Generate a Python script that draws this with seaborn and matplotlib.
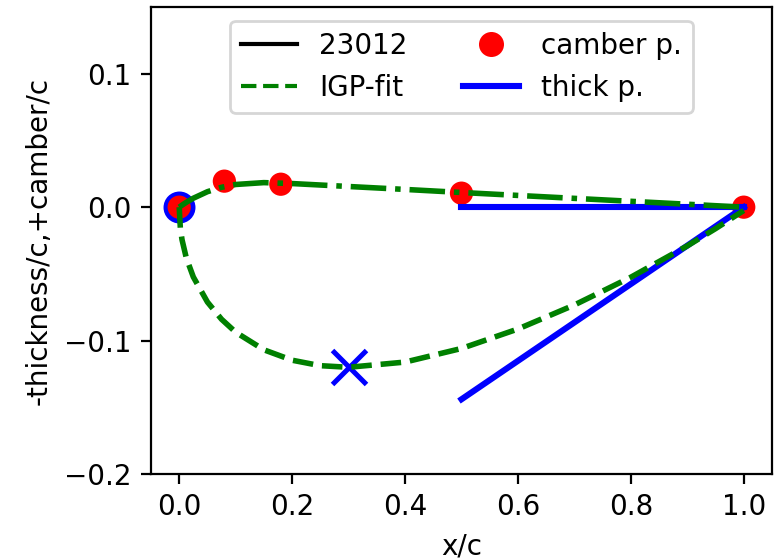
import matplotlib
matplotlib.use("Agg")
import matplotlib.pyplot as plt
from matplotlib.lines import Line2D
import seaborn as sns
import pandas as pd

# chordwise stations (x/c)
x_stations = [0.0, 0.002, 0.005, 0.0125, 0.025, 0.05, 0.075, 0.1, 0.15, 0.2,
              0.25, 0.3, 0.4, 0.5, 0.6, 0.7, 0.8, 0.9, 0.95, 1.0]
# IGP fit: negative thickness distribution (-t/c)
thickness_fit = [0.0, -0.0156, -0.0244, -0.0379, -0.0523, -0.0711, -0.0840, -0.0937,
                 -0.1069, -0.1147, -0.1188, -0.1200, -0.1161, -0.1059, -0.0913,
                 -0.0733, -0.0525, -0.0290, -0.0161, -0.0025]
# IGP fit: camber line (+camber/c)
camber_fit = [0.0, 0.0006, 0.0015, 0.0036, 0.0067, 0.0116, 0.0149, 0.0170, 0.0184,
              0.0177, 0.0166, 0.0155, 0.0133, 0.0110, 0.0088, 0.0066, 0.0044,
              0.0022, 0.0011, 0.0]

# camber parameter points
camber_px = [0.0, 0.08, 0.18, 0.5, 1.0]
camber_py = [0.0, 0.0195, 0.0172, 0.0105, 0.0]

# thickness parameter lines (trailing edge wedge)
thick_upper_x = [0.5, 1.0]
thick_upper_y = [0.0, 0.0]
thick_lower_x = [0.5, 1.0]
thick_lower_y = [-0.144, 0.0]

# leading edge and max-thickness markers
le_x, le_y = [0.0], [0.0]
tmax_x, tmax_y = [0.3], [-0.12]

fit = pd.DataFrame({"x": x_stations, "t": thickness_fit, "c": camber_fit})

fig = plt.figure(figsize=(3.875, 2.79), dpi=200)
ax = fig.add_axes([0.1948, 0.1505, 0.8013, 0.8369])

ax.plot(le_x, le_y, "o", color="blue", markersize=10.5, zorder=2)
sns.scatterplot(x=camber_px, y=camber_py, color="red", s=70, edgecolor="none",
                ax=ax, zorder=3)
sns.lineplot(x=thick_upper_x, y=thick_upper_y, color="blue", linewidth=2.2,
             ax=ax, zorder=4)
sns.lineplot(x=thick_lower_x, y=thick_lower_y, color="blue", linewidth=2.2,
             ax=ax, zorder=4)
ax.plot(tmax_x, tmax_y, "x", color="blue", markersize=12, mew=1.8, zorder=5)
sns.lineplot(data=fit, x="x", y="t", sort=False, color="green", linestyle="--",
             linewidth=2.0, ax=ax, zorder=6)
sns.lineplot(data=fit, x="x", y="c", sort=False, color="green", linestyle="-.",
             linewidth=2.0, ax=ax, zorder=6)

ax.set_xlim(-0.05, 1.05)
ax.set_ylim(-0.2, 0.15)
ax.set_yticks([-0.2, -0.1, 0.0, 0.1])
ax.set_xticks([0.0, 0.2, 0.4, 0.6, 0.8, 1.0])
ax.set_xlabel("x/c")
ax.set_ylabel("-thickness/c,+camber/c")

handles = [
    Line2D([], [], color="black", linewidth=1.5),
    Line2D([], [], color="green", linestyle="--", linewidth=1.5),
    Line2D([], [], color="red", marker="o", linestyle="none", markersize=8),
    Line2D([], [], color="blue", linewidth=2.2),
]
labels = ["23012", "IGP-fit", "camber p.", "thick p."]
ax.legend(handles, labels, loc="upper center", ncol=2)

fig.savefig("out.png", dpi=200)
